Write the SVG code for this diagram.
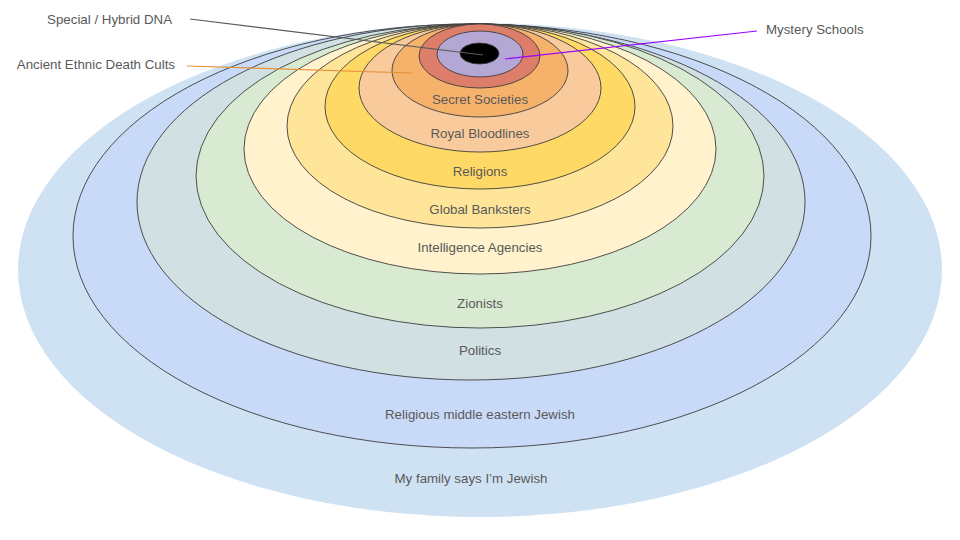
<svg xmlns="http://www.w3.org/2000/svg" width="960" height="540" viewBox="0 0 960 540">
<style>
.ring{stroke:#3c3c3c;stroke-width:0.9}
.lbl{font-family:"Liberation Sans",Arial,sans-serif;font-size:13.3px;fill:#595959;text-anchor:middle}
.ext{font-family:"Liberation Sans",Arial,sans-serif;font-size:13.3px;fill:#595959}
.conn{fill:none;stroke-width:1.1}
</style>
<rect width="960" height="540" fill="#ffffff"/>
<g id="n-family"><ellipse cx="480" cy="270" rx="462" ry="247" fill="#cfe2f3"/><text class="lbl" x="471" y="483">My family says I’m Jewish</text></g>
<g id="n-religious"><ellipse class="ring" cx="472" cy="236" rx="399" ry="212" fill="#c9daf8"/><text class="lbl" x="480" y="419">Religious middle eastern Jewish</text></g>
<g id="n-politics"><ellipse class="ring" cx="471" cy="202" rx="334" ry="178" fill="#d0e0e3"/><text class="lbl" x="480" y="355">Politics</text></g>
<g id="n-zionists"><ellipse class="ring" cx="480" cy="176" rx="284" ry="152" fill="#d9ead3"/><text class="lbl" x="480" y="308">Zionists</text></g>
<g id="n-intel"><ellipse class="ring" cx="480" cy="149" rx="236" ry="125" fill="#fff2cc"/><text class="lbl" x="480" y="252">Intelligence Agencies</text></g>
<g id="n-banksters"><ellipse class="ring" cx="480" cy="126" rx="193" ry="102" fill="#ffe599"/><text class="lbl" x="480" y="214">Global Banksters</text></g>
<g id="n-religions"><ellipse class="ring" cx="480" cy="106.5" rx="155" ry="82.5" fill="#ffd966"/><text class="lbl" x="480" y="176">Religions</text></g>
<g id="n-royal"><ellipse class="ring" cx="480" cy="88" rx="121" ry="64" fill="#f9cb9c"/><text class="lbl" x="480" y="138">Royal Bloodlines</text></g>
<g id="n-secret"><ellipse class="ring" cx="480" cy="70.5" rx="88" ry="46.5" fill="#f6b26b"/><text class="lbl" x="480" y="104">Secret Societies</text></g>
<g id="n-cults"><ellipse class="ring" cx="479.5" cy="56" rx="60.5" ry="32" fill="#dd7e6b"/></g>
<g id="n-mystery"><ellipse class="ring" cx="480" cy="54" rx="43" ry="23" fill="#b4a7d6"/></g>
<g id="n-dna"><ellipse class="ring" cx="479.5" cy="53.5" rx="19.5" ry="10.5" fill="#000000"/></g>
<g id="connectors">
<line class="conn" x1="190" y1="19" x2="483" y2="55" stroke="#595959"/>
<line class="conn" x1="187" y1="66" x2="412" y2="73" stroke="#e69138"/>
<line class="conn" x1="757" y1="31" x2="505" y2="59" stroke="#9900ff"/>
</g>
<g id="labels">
<text class="ext" x="172" y="24" text-anchor="end">Special / Hybrid DNA</text>
<text class="ext" x="175" y="69" text-anchor="end">Ancient Ethnic Death Cults</text>
<text class="ext" x="766" y="34">Mystery Schools</text>
</g>
</svg>
